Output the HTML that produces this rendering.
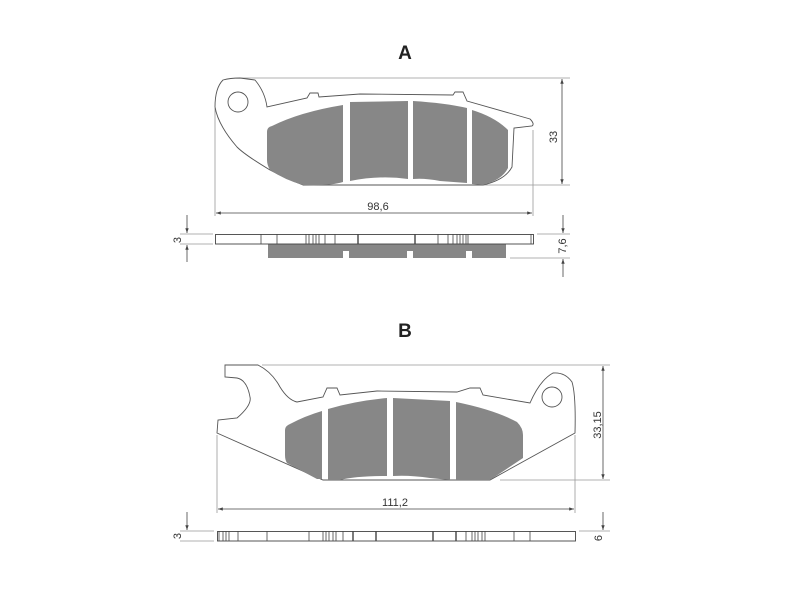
<!DOCTYPE html>
<html><head><style>body{margin:0;background:#fff}svg{display:block}text{font-family:"Liberation Sans",sans-serif;fill:#333}</style></head><body>
<svg width="800" height="600" viewBox="0 0 800 600">
<defs>
<marker id="ar" viewBox="0 0 10 10" refX="10" refY="5" markerWidth="8" markerHeight="6" orient="auto-start-reverse"><path d="M0,1.5 L10,5 L0,8.5 z" fill="#444"/></marker>
</defs>
<text x="405" y="59" font-size="19" font-weight="bold" text-anchor="middle" style="fill:#222">A</text>
<text x="405" y="337" font-size="19" font-weight="bold" text-anchor="middle" style="fill:#222">B</text>
<g fill="none" stroke="#999" stroke-width="0.8">
<line x1="240" y1="78" x2="570" y2="78"/><line x1="483" y1="185" x2="570" y2="185"/>
<line x1="215" y1="108" x2="215" y2="216"/><line x1="533" y1="130" x2="533" y2="216"/>
<line x1="180" y1="234" x2="213" y2="234"/><line x1="180" y1="244" x2="213" y2="244"/>
<line x1="537" y1="234" x2="570" y2="234"/><line x1="510" y1="258" x2="570" y2="258"/>
<line x1="262" y1="365" x2="610" y2="365"/><line x1="500" y1="480" x2="610" y2="480"/>
<line x1="217" y1="435" x2="217" y2="513"/><line x1="575" y1="435" x2="575" y2="513"/>
<line x1="180" y1="531" x2="214" y2="531"/><line x1="180" y1="541" x2="214" y2="541"/>
<line x1="579" y1="531" x2="610" y2="531"/>
</g>
<g stroke="#444" stroke-width="0.8" fill="none">
<line x1="562" y1="79" x2="562" y2="184" marker-start="url(#ar)" marker-end="url(#ar)"/>
<line x1="216" y1="213" x2="532" y2="213" marker-start="url(#ar)" marker-end="url(#ar)"/>
<line x1="187" y1="215" x2="187" y2="233" marker-end="url(#ar)"/>
<line x1="187" y1="262" x2="187" y2="245" marker-end="url(#ar)"/>
<line x1="563" y1="215" x2="563" y2="233" marker-end="url(#ar)"/>
<line x1="563" y1="277" x2="563" y2="259" marker-end="url(#ar)"/>
<line x1="603" y1="366" x2="603" y2="479" marker-start="url(#ar)" marker-end="url(#ar)"/>
<line x1="218" y1="509" x2="574" y2="509" marker-start="url(#ar)" marker-end="url(#ar)"/>
<line x1="187" y1="512" x2="187" y2="530" marker-end="url(#ar)"/>
<line x1="603" y1="512" x2="603" y2="530" marker-end="url(#ar)"/>
</g>
<text x="378" y="210" font-size="11" text-anchor="middle">98,6</text>
<text x="395" y="506" font-size="11" text-anchor="middle">111,2</text>
<text font-size="11" text-anchor="middle" transform="translate(557,137) rotate(-90)">33</text>
<text font-size="11" text-anchor="middle" transform="translate(601,425) rotate(-90)">33,15</text>
<text font-size="11" text-anchor="middle" transform="translate(181,240) rotate(-90)">3</text>
<text font-size="11" text-anchor="middle" transform="translate(566,246) rotate(-90)">7,6</text>
<text font-size="11" text-anchor="middle" transform="translate(181,536) rotate(-90)">3</text>
<text font-size="11" text-anchor="middle" transform="translate(602,538) rotate(-90)">6</text>

<path d="M223,80 Q230,78 240,78 L255,80 Q265,92 267,107 L307,98 L310,93 L318,93 L319,97 L360,94 L453,95 L455,92 L463,92 L467,101 L530,119 Q535,124 532,126 L514,128 L512,167 Q505,180 483,185 L303,185 Q285,178 270,170 Q245,155 237,147 Q218,125 215,107 Q215,88 223,80 Z" fill="#fff" stroke="#555" stroke-width="0.9"/>
<circle cx="238" cy="102" r="10" fill="#fff" stroke="#555" stroke-width="0.9"/>
<path d="M272,126 Q300,112 343,105 L343,182 Q330,186 303,185 Q285,180 270,170 Q267,165 267,160 L267,132 Q267,127 272,126 Z" fill="#878787"/>
<path d="M350,102 L408,101 L408,179 Q380,175 350,181 Z" fill="#878787"/>
<path d="M413,101 Q445,103 467,108 L467,183 L440,181 Q425,178 413,179 Z" fill="#878787"/>
<path d="M472,110 Q495,117 508,130 L508,168 Q502,180 483,185 L472,184 Z" fill="#878787"/>
<rect x="268" y="244" width="238" height="14" fill="#878787"/>
<g fill="#fff"><rect x="343" y="251" width="6" height="8"/><rect x="407" y="251" width="6" height="8"/><rect x="466" y="251" width="6" height="8"/></g>
<rect x="215.5" y="234.5" width="318" height="9.5" fill="#fff" stroke="#444" stroke-width="0.9"/>
<g stroke="#444" stroke-width="0.8">
<line x1="261" y1="234" x2="261" y2="244"/><line x1="277" y1="234" x2="277" y2="244"/><line x1="306" y1="234" x2="306" y2="244"/><line x1="309" y1="234" x2="309" y2="244"/><line x1="313" y1="234" x2="313" y2="244"/><line x1="316" y1="234" x2="316" y2="244"/><line x1="319" y1="234" x2="319" y2="244"/><line x1="325" y1="234" x2="325" y2="244"/><line x1="335" y1="234" x2="335" y2="244"/><line x1="358" y1="234" x2="358" y2="244" stroke-width="1.4"/><line x1="415" y1="234" x2="415" y2="244" stroke-width="1.4"/><line x1="438" y1="234" x2="438" y2="244"/><line x1="448" y1="234" x2="448" y2="244"/><line x1="453" y1="234" x2="453" y2="244"/><line x1="457" y1="234" x2="457" y2="244"/><line x1="460" y1="234" x2="460" y2="244"/><line x1="463" y1="234" x2="463" y2="244"/><line x1="466" y1="234" x2="466" y2="244"/><line x1="468" y1="234" x2="468" y2="244"/><line x1="531" y1="234" x2="531" y2="244"/>
</g>

<path d="M225,365 L258,365 Q272,372 280,387 Q288,400 297,402 L323,397 L327,388 L337,388 L340,395 L377,391 L457,392 L470,388 L480,388 L483,395 L530,403 Q540,380 553,373 Q565,372 572,382 Q576,395 575,433 L490,480 L323,480 L217,433 L218,420 L237,418 Q252,405 250,397 Q247,380 237,378 L225,377 Z" fill="#fff" stroke="#555" stroke-width="0.9"/>
<circle cx="552" cy="397" r="10" fill="#fff" stroke="#555" stroke-width="0.9"/>
<path d="M290,424 Q305,416 322,411 L322,479 L317,479 Q300,470 287,463 Q285,460 285,455 L285,430 Q285,426 290,424 Z" fill="#878787"/>
<path d="M328,409 Q355,401 387,398 L387,476 Q355,476 340,480 L328,480 Z" fill="#878787"/>
<path d="M393,398 L450,401 L450,480 L430,478 Q410,475 393,476 Z" fill="#878787"/>
<path d="M456,402 Q495,410 517,422 Q523,428 523,435 L523,458 Q505,470 490,480 L456,480 Z" fill="#878787"/>
<rect x="217.5" y="531.5" width="358" height="9.5" fill="#fff" stroke="#444" stroke-width="0.9"/>
<g stroke="#444" stroke-width="0.8">
<line x1="219" y1="531" x2="219" y2="541"/><line x1="223" y1="531" x2="223" y2="541"/><line x1="226" y1="531" x2="226" y2="541"/><line x1="229" y1="531" x2="229" y2="541"/><line x1="238" y1="531" x2="238" y2="541"/><line x1="267" y1="531" x2="267" y2="541"/><line x1="309" y1="531" x2="309" y2="541"/><line x1="323" y1="531" x2="323" y2="541"/><line x1="326" y1="531" x2="326" y2="541"/><line x1="329" y1="531" x2="329" y2="541"/><line x1="333" y1="531" x2="333" y2="541"/><line x1="336" y1="531" x2="336" y2="541"/><line x1="343" y1="531" x2="343" y2="541"/><line x1="353" y1="531" x2="353" y2="541" stroke-width="1.4"/><line x1="376" y1="531" x2="376" y2="541" stroke-width="1.4"/><line x1="433" y1="531" x2="433" y2="541" stroke-width="1.4"/><line x1="456" y1="531" x2="456" y2="541" stroke-width="1.4"/><line x1="466" y1="531" x2="466" y2="541"/><line x1="472" y1="531" x2="472" y2="541"/><line x1="475" y1="531" x2="475" y2="541"/><line x1="478" y1="531" x2="478" y2="541"/><line x1="482" y1="531" x2="482" y2="541"/><line x1="485" y1="531" x2="485" y2="541"/><line x1="514" y1="531" x2="514" y2="541"/><line x1="530" y1="531" x2="530" y2="541"/>
</g>
</svg>
</body></html>
